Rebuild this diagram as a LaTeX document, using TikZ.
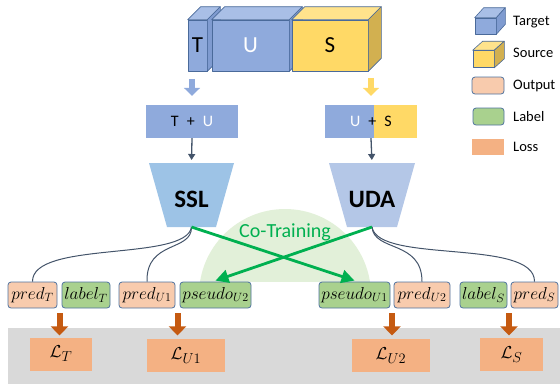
\documentclass[tikz,border=0pt]{standalone}
\usepackage{fontspec}
\setmainfont{Carlito}
\usetikzlibrary{arrows.meta,calc}

\definecolor{cubeblue}{HTML}{8FAADC}
\definecolor{cubebluetop}{HTML}{A9BFE6}
\definecolor{cubeblueside}{HTML}{7F9BD0}
\definecolor{cubeyellow}{HTML}{FFD966}
\definecolor{cubeyellowtop}{HTML}{FFE38C}
\definecolor{cubeyellowside}{HTML}{D2B050}
\definecolor{cubeedge}{HTML}{4A6A9A}
\definecolor{sslblue}{HTML}{9DC3E6}
\definecolor{udablue}{HTML}{B4C7E7}
\definecolor{linkgray}{HTML}{44546A}
\definecolor{nodeedge}{HTML}{5073A0}
\definecolor{outorange}{HTML}{F8CBAD}
\definecolor{labgreen}{HTML}{A9D18E}
\definecolor{lossorange}{HTML}{F4B183}
\definecolor{lossarrowc}{HTML}{C55A11}
\definecolor{cogreen}{HTML}{00B050}
\definecolor{cofill}{HTML}{E2F0D9}
\definecolor{bandgray}{HTML}{D9D9D9}

\tikzset{
  cubeface/.style={draw=cubeedge, line width=0.6pt},
  inbox/.style={minimum width=92pt, minimum height=33pt, inner sep=0pt, font=\fontsize{16}{18}\selectfont},
  outnode/.style={draw=nodeedge, line width=0.8pt, rounded corners=3pt, fill=outorange, minimum height=26pt, inner sep=0pt, font=\fontsize{16.5}{18}\selectfont},
  labnode/.style={outnode, fill=labgreen},
  lossnode/.style={fill=lossorange, minimum height=33pt, inner sep=0pt, font=\fontsize{19}{21}\selectfont},
  link/.style={draw=linkgray, line width=1pt},
  feed/.style={-{Triangle[length=6pt,width=7pt]}, draw=linkgray, line width=1.3pt},
  cross/.style={-{Triangle[length=13pt,width=13pt]}, draw=cogreen, line width=2.8pt},
  lossarrow/.style={-{Triangle[length=9pt,width=17pt]}, draw=lossarrowc, line width=6pt},
  fatarrow/.style={-{Triangle[length=8pt,width=16pt]}, line width=6pt},
  legtext/.style={anchor=west, inner sep=0pt, font=\fontsize{14.5}{16}\selectfont}
}

\begin{document}
\begin{tikzpicture}[x=1pt, y=-1pt, line join=round]
\useasboundingbox (0,0) rectangle (560,384);

% data cubes
\node[cubeface, fill=cubeblue, minimum width=19pt, minimum height=51pt, inner sep=0pt, font=\fontsize{23}{25}\selectfont] (T) at (197.5,45.5) {T};
\draw[cubeface, fill=cubebluetop] (T.north west) -- ++(13,-13) -- ($(T.north east)+(13,-13)$) -- (T.north east) -- cycle;
\draw[cubeface, fill=cubeblueside] (T.north east) -- ++(13,-13) -- ($(T.south east)+(13,-13)$) -- (T.south east) -- cycle;
\node[cubeface, fill=cubeblue, minimum width=77pt, minimum height=51pt, inner sep=0pt, font=\fontsize{23}{25}\selectfont, text=white] (U) at (250.5,45.5) {U};
\draw[cubeface, fill=cubebluetop] (U.north west) -- ++(13,-13) -- ($(U.north east)+(13,-13)$) -- (U.north east) -- cycle;
\draw[cubeface, fill=cubeblueside] (U.north east) -- ++(13,-13) -- ($(U.south east)+(13,-13)$) -- (U.south east) -- cycle;
\node[cubeface, fill=cubeyellow, minimum width=76pt, minimum height=51pt, inner sep=0pt, font=\fontsize{23}{25}\selectfont] (S) at (330,45.5) {S};
\draw[cubeface, fill=cubeyellowtop] (S.north west) -- ++(13,-13) -- ($(S.north east)+(13,-13)$) -- (S.north east) -- cycle;
\draw[cubeface, fill=cubeyellowside] (S.north east) -- ++(13,-13) -- ($(S.south east)+(13,-13)$) -- (S.south east) -- cycle;

% inputs
\node[inbox, fill=cubeblue] (TU) at (192,121.5) {T\enspace+\enspace\textcolor{white}{U}};
\node[inbox, fill=cubeblue, path picture={\fill[cubeyellow] ($(path picture bounding box.north)+(3,0)$) rectangle (path picture bounding box.south east);}] (US) at (371,121.5) {\textcolor{white}{U}\enspace+\enspace S};
\draw[fatarrow, cubeblue, shorten >=9pt] (TU.north) ++(0,-26) -- (TU.north);
\draw[fatarrow, cubeyellow, shorten >=9pt] (US.north) ++(0,-27) -- (US.north);

% models
\coordinate (sslin) at (191.5,163);
\coordinate (sslout) at (191.5,227);
\coordinate (udain) at (372,163);
\coordinate (udaout) at (372,227);
\fill[sslblue] (149,163) -- (234,163) -- (216,227) -- (167,227) -- cycle;
\fill[udablue] (329,163) -- (415,163) -- (397,227) -- (347,227) -- cycle;
\node[font=\fontsize{25}{27}\selectfont\bfseries] (ssl) at (191.5,199) {SSL};
\node[font=\fontsize{25}{27}\selectfont\bfseries] (uda) at (372,199) {UDA};
\draw[feed, shorten >=3pt] (TU.south) -- (sslin);
\draw[feed, shorten >=3pt] (US.south) -- (udain);

% co-training area
\begin{scope}
  \clip (0,0) rectangle (560,281);
  \fill[cofill] (285,295) circle (86);
\end{scope}
\node[text=cogreen, font=\fontsize{20}{22}\selectfont] (co) at (285,232) {Co-Training};

% loss band
\fill[bandgray] (8,328) rectangle (560,384);

% outputs and labels
\node[outnode, minimum width=49pt] (predT) at (32.5,295) {$pred_{T}$};
\node[labnode, minimum width=48pt] (labelT) at (86,295) {$label_{T}$};
\node[outnode, minimum width=56pt] (predU1) at (147,295) {$pred_{U1}$};
\node[labnode, minimum width=71pt] (pseudoU2) at (215.5,295) {$pseudo_{U2}$};
\node[labnode, minimum width=71pt] (pseudoU1) at (354.5,295) {$pseudo_{U1}$};
\node[outnode, minimum width=56pt] (predU2) at (422,295) {$pred_{U2}$};
\node[labnode, minimum width=47pt] (labelS) at (483.5,295) {$label_{S}$};
\node[outnode, minimum width=47pt] (predS) at (534.5,295) {$pred_{S}$};

% model outputs
\draw[link] (sslout) .. controls (186,262) and (32,240) .. (predT.north);
\draw[link] (sslout) .. controls (192,252) and (146,240) .. (predU1.north);
\draw[link] (udaout) .. controls (374,252) and (422,240) .. (predU2.north);
\draw[link] (udaout) .. controls (378,264) and (535,238) .. (predS.north);

% pseudo labels
\draw[cross] (sslout) -- ($(pseudoU1.north)+(0,-1)$);
\draw[cross] (udaout) -- ($(pseudoU2.north)+(0,-1)$);

% losses
\node[lossnode, minimum width=62pt] (LT) at (61,354) {$\mathcal{L}_{T}$};
\node[lossnode, minimum width=78pt] (LU1) at (186,355.5) {$\mathcal{L}_{U1}$};
\node[lossnode, minimum width=78pt] (LU2) at (391,355.5) {$\mathcal{L}_{U2}$};
\node[lossnode, minimum width=63pt] (LS) at (511.5,354.5) {$\mathcal{L}_{S}$};
\foreach \a/\b in {predT/labelT, predU1/pseudoU2, pseudoU1/predU2, labelS/predS}
  \draw[lossarrow] ($(\a.south east)!.5!(\b.south west)+(0,5)$) -- ++(0,22);

% legend
\node[cubeface, fill=cubeblue, minimum width=21pt, minimum height=16pt, inner sep=0pt] (legT) at (485.5,26) {};
\draw[cubeface, fill=cubebluetop] (legT.north west) -- ++(9,-10) -- ($(legT.north east)+(9,-10)$) -- (legT.north east) -- cycle;
\draw[cubeface, fill=cubeblueside] (legT.north east) -- ++(9,-10) -- ($(legT.south east)+(9,-10)$) -- (legT.south east) -- cycle;
\node[cubeface, fill=cubeyellow, minimum width=21pt, minimum height=17pt, inner sep=0pt] (legS) at (483.5,59) {};
\draw[cubeface, fill=cubeyellowtop] (legS.north west) -- ++(10,-9) -- ($(legS.north east)+(10,-9)$) -- (legS.north east) -- cycle;
\draw[cubeface, fill=cubeyellowside] (legS.north east) -- ++(10,-9) -- ($(legS.south east)+(10,-9)$) -- (legS.south east) -- cycle;
\node[outnode, minimum width=32pt, minimum height=17pt] (legO) at (488,85.5) {};
\node[labnode, minimum width=31pt, minimum height=17pt] (legL) at (488.5,116.5) {};
\node[fill=lossorange, minimum width=32pt, minimum height=16pt, inner sep=0pt] (legLoss) at (488,147) {};
\node[legtext] at (513,22) {Target};
\node[legtext] at (513,53) {Source};
\node[legtext] at (513,86) {Output};
\node[legtext] at (513,117) {Label};
\node[legtext] at (513,147) {Loss};
\end{tikzpicture}
\end{document}
